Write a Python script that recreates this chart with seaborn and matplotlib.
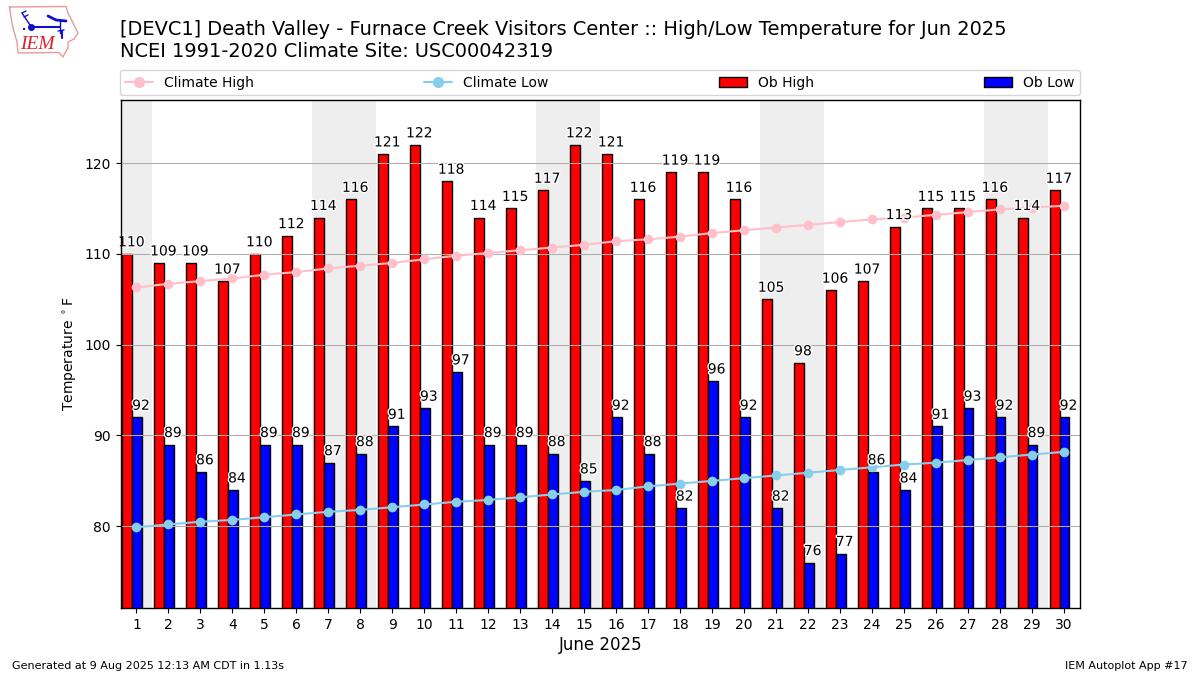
import numpy as np
import pandas as pd
import matplotlib
matplotlib.use("Agg")
import matplotlib.pyplot as plt
import matplotlib.patheffects as PathEffects
from matplotlib.lines import Line2D
from matplotlib.patches import Patch
import seaborn as sns

days = list(range(1, 31))
ob_high = [110, 109, 109, 107, 110, 112, 114, 116, 121, 122, 118, 114, 115, 117, 122,
           121, 116, 119, 119, 116, 105, 98, 106, 107, 113, 115, 115, 116, 114, 117]
ob_low = [92, 89, 86, 84, 89, 89, 87, 88, 91, 93, 97, 89, 89, 88, 85,
          92, 88, 82, 96, 92, 82, 76, 77, 86, 84, 91, 93, 92, 89, 92]
climate_high = [106.3, 106.7, 107.0, 107.3, 107.7, 108.0, 108.4, 108.7, 109.0, 109.4,
                109.8, 110.1, 110.4, 110.7, 111.0, 111.4, 111.6, 111.9, 112.3, 112.6,
                112.9, 113.2, 113.5, 113.8, 114.0, 114.3, 114.6, 114.9, 115.1, 115.3]
climate_low = [79.9, 80.2, 80.5, 80.7, 81.0, 81.3, 81.6, 81.8, 82.1, 82.4,
               82.7, 82.9, 83.2, 83.5, 83.8, 84.0, 84.4, 84.7, 85.0, 85.3,
               85.6, 85.9, 86.2, 86.5, 86.8, 87.0, 87.3, 87.6, 87.9, 88.2]
weekends = [(0, 1), (7, 8), (14, 15), (21, 22), (28, 29)]

sns.set_theme(style="white", rc={"axes.edgecolor": "black", "xtick.bottom": True, "ytick.left": True})
plt.rcParams["font.family"] = "DejaVu Sans"

fig = plt.figure(figsize=(12, 6.75), dpi=100)
ax = fig.add_axes([120.5 / 1200, 1 - 608 / 675, 959.5 / 1200, 508.5 / 675])

for start, end in weekends:
    ax.axvspan(start - 0.5, end + 0.5, color="#eeeeee", zorder=1, lw=0)

# bars sit left of the tick, the red/blue seam is a bit before the day
bars = pd.DataFrame({
    "day": np.array(days * 2) - 0.14,
    "temp": ob_high + ob_low,
    "kind": ["Ob High"] * 30 + ["Ob Low"] * 30,
})
sns.barplot(data=bars, x="day", y="temp", hue="kind", native_scale=True,
            palette={"Ob High": "red", "Ob Low": "blue"}, width=0.62, gap=0, saturation=1,
            edgecolor="black", linewidth=1, legend=False, zorder=2, ax=ax)

climate = pd.DataFrame({"day": days, "high": climate_high, "low": climate_low})
sns.lineplot(data=climate, x="day", y="high", color="pink", marker="o", markersize=7,
             markeredgewidth=0, lw=1.5, zorder=3, ax=ax)
sns.lineplot(data=climate, x="day", y="low", color="skyblue", marker="o", markersize=7,
             markeredgewidth=0, lw=1.5, zorder=3, ax=ax)

stroke = [PathEffects.withStroke(linewidth=2, foreground="white")]
for day, hi, lo in zip(days, ob_high, ob_low):
    ax.text(day - 0.16, hi + 0.5, str(hi), ha="center", va="bottom", fontsize=10,
            color="black", path_effects=stroke, zorder=5)
    ax.text(day + 0.14, lo + 0.5, str(lo), ha="center", va="bottom", fontsize=10,
            color="black", path_effects=stroke, zorder=5)

ax.set_xlim(0.5, 30.5)
ax.set_ylim(71, 127)
ax.set_xticks(days)
ax.set_xticklabels([str(d) for d in days])
ax.set_yticks([80, 90, 100, 110, 120])
ax.set_axisbelow(False)
ax.grid(axis="y", color="#b0b0b0", lw=0.8, zorder=1.5)
ax.grid(axis="x", visible=False)
ax.tick_params(labelsize=10, colors="black", length=3.5, width=0.8)
ax.set_xlabel("June 2025", fontsize=12, color="black", labelpad=3)
ax.set_ylabel(r"Temperature $^\circ$F", fontsize=10, color="black")
for spine in ax.spines.values():
    spine.set_linewidth(1)
    spine.set_zorder(6)

handles = [
    Line2D([], [], color="pink", marker="o", markersize=7, lw=1.5, label="Climate High"),
    Line2D([], [], color="skyblue", marker="o", markersize=7, lw=1.5, label="Climate Low"),
    Patch(facecolor="red", edgecolor="black", label="Ob High"),
    Patch(facecolor="blue", edgecolor="black", label="Ob Low"),
]
ax.legend(handles=handles, ncol=4, mode="expand", loc="lower left", borderaxespad=0,
          bbox_to_anchor=(-0.001, 1.0085, 1.001, 0.05), fontsize=10, frameon=True,
          labelcolor="black", edgecolor="#cccccc", fancybox=True)

fig.text(120 / 1200, 1 - 61 / 675,
         "[DEVC1] Death Valley - Furnace Creek Visitors Center :: High/Low Temperature for Jun 2025\n"
         "NCEI 1991-2020 Climate Site: USC00042319",
         fontsize=13.99, color="black", va="bottom", ha="left")
fig.text(12 / 1200, 1 - 666 / 675, "Generated at 9 Aug 2025 12:13 AM CDT in 1.13s",
         fontsize=8, color="black", va="center")
fig.text(1188 / 1200, 1 - 666 / 675, "IEM Autoplot App #17",
         fontsize=8, color="black", va="center", ha="right")

# rough copy of the IEM logo, pixel space of the figure
logo = fig.add_axes([0, 1 - 60 / 675, 80 / 1200, 60 / 675])
logo.set_xlim(0, 80)
logo.set_ylim(60, 0)
logo.axis("off")
outline_x = [9.5, 66, 68, 74, 78, 74, 68, 68, 65, 63, 59, 18, 17, 13, 11, 9.5]
outline_y = [7, 6.5, 13, 25, 33, 39, 42, 48, 53, 57, 52.5, 53, 42, 28, 17, 7]
logo.plot(outline_x, outline_y, color="#e89a9a", lw=1)
blue = "#1010d0"
logo.plot([31, 60], [26.5, 26.5], color=blue, lw=1.5)
logo.plot([31], [26.5], "o", color=blue, ms=4)
logo.plot([22, 31], [13, 26.5], color=blue, lw=1)
logo.plot([22, 26], [13, 11], color=blue, lw=1)
logo.plot([24, 28], [17, 15], color=blue, lw=1)
logo.plot([48, 56, 66], [16, 20, 21], color=blue, lw=2)
logo.plot([60, 60], [21, 33], color=blue, lw=1)
logo.plot([58, 64], [31, 30], color=blue, lw=1)
logo.plot([62, 62], [31, 38], color=blue, lw=1.5)
logo.plot([23, 26], [29, 29], ":", color=blue, lw=1.5)
logo.text(37, 44.5, "IEM", family="Liberation Serif", style="italic", fontsize=14,
          color="#d8202a", ha="center", va="center")

fig.savefig("out.png", dpi=100)
